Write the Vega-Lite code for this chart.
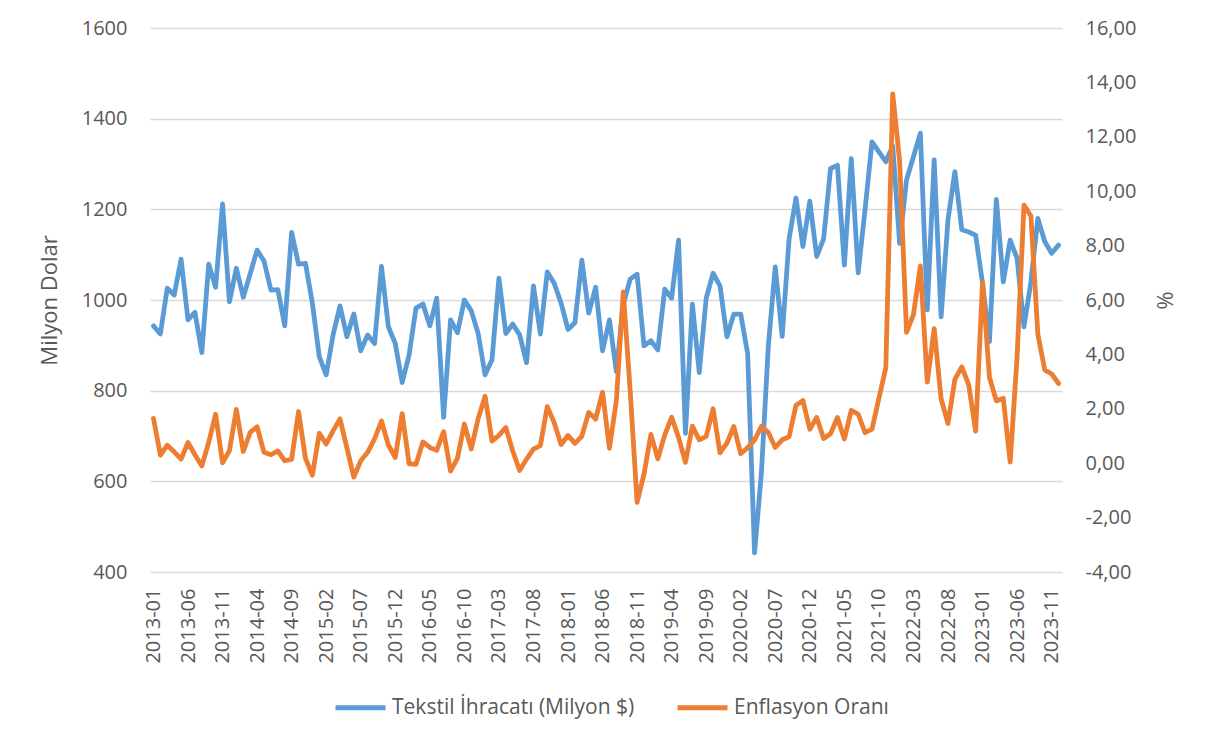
{
  "$schema": "https://vega.github.io/schema/vega-lite/v6.json",
  "width": 912,
  "height": 544,
  "autosize": {"type": "none"},
  "padding": {"left": 150, "top": 28, "right": 153, "bottom": 175},
  "background": "white",
  "config": {
    "view": {"stroke": null},
    "font": "Open Sans",
    "axis": {
      "labelFont": "Open Sans",
      "titleFont": "Open Sans",
      "labelColor": "#595959",
      "titleColor": "#595959",
      "labelFontSize": 20,
      "titleFontSize": 22,
      "titleFontWeight": "normal",
      "ticks": false,
      "domain": false
    },
    "legend": {
      "labelFont": "Open Sans",
      "labelFontSize": 21,
      "labelColor": "#595959",
      "labelLimit": 0
    }
  },
  "data": {
    "values": [
      {"ay": "2013-01", "tekstil": 943, "enflasyon": 1.65},
      {"ay": "2013-02", "tekstil": 925, "enflasyon": 0.30},
      {"ay": "2013-03", "tekstil": 1026, "enflasyon": 0.66},
      {"ay": "2013-04", "tekstil": 1011, "enflasyon": 0.42},
      {"ay": "2013-05", "tekstil": 1090, "enflasyon": 0.15},
      {"ay": "2013-06", "tekstil": 956, "enflasyon": 0.76},
      {"ay": "2013-07", "tekstil": 973, "enflasyon": 0.31},
      {"ay": "2013-08", "tekstil": 884, "enflasyon": -0.10},
      {"ay": "2013-09", "tekstil": 1079, "enflasyon": 0.77},
      {"ay": "2013-10", "tekstil": 1028, "enflasyon": 1.80},
      {"ay": "2013-11", "tekstil": 1212, "enflasyon": 0.01},
      {"ay": "2013-12", "tekstil": 996, "enflasyon": 0.46},
      {"ay": "2014-01", "tekstil": 1070, "enflasyon": 1.98},
      {"ay": "2014-02", "tekstil": 1006, "enflasyon": 0.43},
      {"ay": "2014-03", "tekstil": 1058, "enflasyon": 1.13},
      {"ay": "2014-04", "tekstil": 1110, "enflasyon": 1.34},
      {"ay": "2014-05", "tekstil": 1086, "enflasyon": 0.40},
      {"ay": "2014-06", "tekstil": 1022, "enflasyon": 0.31},
      {"ay": "2014-07", "tekstil": 1023, "enflasyon": 0.45},
      {"ay": "2014-08", "tekstil": 943, "enflasyon": 0.09},
      {"ay": "2014-09", "tekstil": 1149, "enflasyon": 0.14},
      {"ay": "2014-10", "tekstil": 1079, "enflasyon": 1.90},
      {"ay": "2014-11", "tekstil": 1081, "enflasyon": 0.18},
      {"ay": "2014-12", "tekstil": 993, "enflasyon": -0.44},
      {"ay": "2015-01", "tekstil": 875, "enflasyon": 1.10},
      {"ay": "2015-02", "tekstil": 835, "enflasyon": 0.71},
      {"ay": "2015-03", "tekstil": 923, "enflasyon": 1.19},
      {"ay": "2015-04", "tekstil": 987, "enflasyon": 1.63},
      {"ay": "2015-05", "tekstil": 919, "enflasyon": 0.56},
      {"ay": "2015-06", "tekstil": 969, "enflasyon": -0.51},
      {"ay": "2015-07", "tekstil": 888, "enflasyon": 0.09},
      {"ay": "2015-08", "tekstil": 923, "enflasyon": 0.40},
      {"ay": "2015-09", "tekstil": 904, "enflasyon": 0.89},
      {"ay": "2015-10", "tekstil": 1074, "enflasyon": 1.55},
      {"ay": "2015-11", "tekstil": 941, "enflasyon": 0.67},
      {"ay": "2015-12", "tekstil": 904, "enflasyon": 0.21},
      {"ay": "2016-01", "tekstil": 818, "enflasyon": 1.82},
      {"ay": "2016-02", "tekstil": 879, "enflasyon": -0.02},
      {"ay": "2016-03", "tekstil": 982, "enflasyon": -0.04},
      {"ay": "2016-04", "tekstil": 991, "enflasyon": 0.78},
      {"ay": "2016-05", "tekstil": 943, "enflasyon": 0.58},
      {"ay": "2016-06", "tekstil": 1004, "enflasyon": 0.47},
      {"ay": "2016-07", "tekstil": 741, "enflasyon": 1.16},
      {"ay": "2016-08", "tekstil": 956, "enflasyon": -0.29},
      {"ay": "2016-09", "tekstil": 928, "enflasyon": 0.18},
      {"ay": "2016-10", "tekstil": 1000, "enflasyon": 1.44},
      {"ay": "2016-11", "tekstil": 976, "enflasyon": 0.52},
      {"ay": "2016-12", "tekstil": 926, "enflasyon": 1.64},
      {"ay": "2017-01", "tekstil": 835, "enflasyon": 2.46},
      {"ay": "2017-02", "tekstil": 868, "enflasyon": 0.81},
      {"ay": "2017-03", "tekstil": 1048, "enflasyon": 1.02},
      {"ay": "2017-04", "tekstil": 926, "enflasyon": 1.31},
      {"ay": "2017-05", "tekstil": 947, "enflasyon": 0.45},
      {"ay": "2017-06", "tekstil": 923, "enflasyon": -0.27},
      {"ay": "2017-07", "tekstil": 862, "enflasyon": 0.15},
      {"ay": "2017-08", "tekstil": 1031, "enflasyon": 0.52},
      {"ay": "2017-09", "tekstil": 925, "enflasyon": 0.65},
      {"ay": "2017-10", "tekstil": 1062, "enflasyon": 2.08},
      {"ay": "2017-11", "tekstil": 1037, "enflasyon": 1.49},
      {"ay": "2017-12", "tekstil": 993, "enflasyon": 0.69},
      {"ay": "2018-01", "tekstil": 935, "enflasyon": 1.02},
      {"ay": "2018-02", "tekstil": 950, "enflasyon": 0.73},
      {"ay": "2018-03", "tekstil": 1088, "enflasyon": 0.99},
      {"ay": "2018-04", "tekstil": 971, "enflasyon": 1.87},
      {"ay": "2018-05", "tekstil": 1028, "enflasyon": 1.62},
      {"ay": "2018-06", "tekstil": 888, "enflasyon": 2.61},
      {"ay": "2018-07", "tekstil": 956, "enflasyon": 0.55},
      {"ay": "2018-08", "tekstil": 842, "enflasyon": 2.30},
      {"ay": "2018-09", "tekstil": 990, "enflasyon": 6.30},
      {"ay": "2018-10", "tekstil": 1046, "enflasyon": 2.67},
      {"ay": "2018-11", "tekstil": 1057, "enflasyon": -1.44},
      {"ay": "2018-12", "tekstil": 899, "enflasyon": -0.40},
      {"ay": "2019-01", "tekstil": 910, "enflasyon": 1.06},
      {"ay": "2019-02", "tekstil": 890, "enflasyon": 0.16},
      {"ay": "2019-03", "tekstil": 1024, "enflasyon": 1.03},
      {"ay": "2019-04", "tekstil": 1004, "enflasyon": 1.69},
      {"ay": "2019-05", "tekstil": 1132, "enflasyon": 0.95},
      {"ay": "2019-06", "tekstil": 706, "enflasyon": 0.03},
      {"ay": "2019-07", "tekstil": 991, "enflasyon": 1.36},
      {"ay": "2019-08", "tekstil": 840, "enflasyon": 0.86},
      {"ay": "2019-09", "tekstil": 1004, "enflasyon": 0.99},
      {"ay": "2019-10", "tekstil": 1059, "enflasyon": 2.00},
      {"ay": "2019-11", "tekstil": 1031, "enflasyon": 0.38},
      {"ay": "2019-12", "tekstil": 919, "enflasyon": 0.74},
      {"ay": "2020-01", "tekstil": 969, "enflasyon": 1.35},
      {"ay": "2020-02", "tekstil": 969, "enflasyon": 0.35},
      {"ay": "2020-03", "tekstil": 882, "enflasyon": 0.57},
      {"ay": "2020-04", "tekstil": 442, "enflasyon": 0.85},
      {"ay": "2020-05", "tekstil": 620, "enflasyon": 1.36},
      {"ay": "2020-06", "tekstil": 900, "enflasyon": 1.13},
      {"ay": "2020-07", "tekstil": 1073, "enflasyon": 0.58},
      {"ay": "2020-08", "tekstil": 920, "enflasyon": 0.86},
      {"ay": "2020-09", "tekstil": 1135, "enflasyon": 0.97},
      {"ay": "2020-10", "tekstil": 1225, "enflasyon": 2.13},
      {"ay": "2020-11", "tekstil": 1118, "enflasyon": 2.30},
      {"ay": "2020-12", "tekstil": 1218, "enflasyon": 1.25},
      {"ay": "2021-01", "tekstil": 1096, "enflasyon": 1.68},
      {"ay": "2021-02", "tekstil": 1135, "enflasyon": 0.91},
      {"ay": "2021-03", "tekstil": 1290, "enflasyon": 1.08},
      {"ay": "2021-04", "tekstil": 1297, "enflasyon": 1.68},
      {"ay": "2021-05", "tekstil": 1077, "enflasyon": 0.89},
      {"ay": "2021-06", "tekstil": 1312, "enflasyon": 1.94},
      {"ay": "2021-07", "tekstil": 1060, "enflasyon": 1.80},
      {"ay": "2021-08", "tekstil": 1200, "enflasyon": 1.12},
      {"ay": "2021-09", "tekstil": 1349, "enflasyon": 1.25},
      {"ay": "2021-10", "tekstil": 1327, "enflasyon": 2.39},
      {"ay": "2021-11", "tekstil": 1305, "enflasyon": 3.51},
      {"ay": "2021-12", "tekstil": 1340, "enflasyon": 13.58},
      {"ay": "2022-01", "tekstil": 1125, "enflasyon": 11.10},
      {"ay": "2022-02", "tekstil": 1265, "enflasyon": 4.81},
      {"ay": "2022-03", "tekstil": 1316, "enflasyon": 5.46},
      {"ay": "2022-04", "tekstil": 1368, "enflasyon": 7.25},
      {"ay": "2022-05", "tekstil": 978, "enflasyon": 2.98},
      {"ay": "2022-06", "tekstil": 1309, "enflasyon": 4.95},
      {"ay": "2022-07", "tekstil": 963, "enflasyon": 2.37},
      {"ay": "2022-08", "tekstil": 1177, "enflasyon": 1.46},
      {"ay": "2022-09", "tekstil": 1283, "enflasyon": 3.08},
      {"ay": "2022-10", "tekstil": 1155, "enflasyon": 3.54},
      {"ay": "2022-11", "tekstil": 1150, "enflasyon": 2.88},
      {"ay": "2022-12", "tekstil": 1143, "enflasyon": 1.18},
      {"ay": "2023-01", "tekstil": 1037, "enflasyon": 6.65},
      {"ay": "2023-02", "tekstil": 908, "enflasyon": 3.15},
      {"ay": "2023-03", "tekstil": 1222, "enflasyon": 2.29},
      {"ay": "2023-04", "tekstil": 1040, "enflasyon": 2.39},
      {"ay": "2023-05", "tekstil": 1132, "enflasyon": 0.04},
      {"ay": "2023-06", "tekstil": 1092, "enflasyon": 3.92},
      {"ay": "2023-07", "tekstil": 941, "enflasyon": 9.49},
      {"ay": "2023-08", "tekstil": 1040, "enflasyon": 9.09},
      {"ay": "2023-09", "tekstil": 1180, "enflasyon": 4.75},
      {"ay": "2023-10", "tekstil": 1129, "enflasyon": 3.43},
      {"ay": "2023-11", "tekstil": 1103, "enflasyon": 3.28},
      {"ay": "2023-12", "tekstil": 1121, "enflasyon": 2.93}
    ]
  },
  "encoding": {
    "x": {
      "field": "ay",
      "type": "ordinal",
      "scale": {"type": "point", "padding": 0.5},
      "axis": {
        "values": ["2013-01","2013-06","2013-11","2014-04","2014-09","2015-02","2015-07","2015-12","2016-05","2016-10","2017-03","2017-08","2018-01","2018-06","2018-11","2019-04","2019-09","2020-02","2020-07","2020-12","2021-05","2021-10","2022-03","2022-08","2023-01","2023-06","2023-11"],
        "labelAngle": 270,
        "labelPadding": 16,
        "labelOverlap": false,
        "title": null,
        "grid": false
      }
    }
  },
  "layer": [
    {
      "mark": {"type": "line", "strokeWidth": 4.8, "strokeCap": "round", "strokeJoin": "round"},
      "encoding": {
        "y": {
          "field": "tekstil",
          "type": "quantitative",
          "scale": {"domain": [400, 1600], "nice": false, "zero": false},
          "axis": {
            "values": [400, 600, 800, 1000, 1200, 1400, 1600],
            "format": "d",
            "title": "Milyon Dolar",
            "grid": true,
            "gridColor": "#D9D9D9",
            "gridWidth": 1.3,
            "labelPadding": 23,
            "titlePadding": 20
          }
        },
        "color": {
          "datum": "Tekstil İhracatı (Milyon $)",
          "type": "nominal",
          "scale": {"domain": ["Tekstil İhracatı (Milyon $)", "Enflasyon Oranı"], "range": ["#5B9BD5", "#ED7D31"]},
          "legend": {
            "title": null,
            "orient": "none",
            "legendX": 183,
            "legendY": 652,
            "direction": "horizontal",
            "symbolType": "stroke",
            "symbolSize": 2500,
            "symbolStrokeWidth": 5,
            "labelOffset": 4,
            "labelLimit": 0,
            "columnPadding": 32
          }
        }
      }
    },
    {
      "mark": {"type": "line", "strokeWidth": 4.8, "strokeCap": "round", "strokeJoin": "round"},
      "encoding": {
        "y": {
          "field": "enflasyon",
          "type": "quantitative",
          "scale": {"domain": [-4, 16], "nice": false, "zero": false},
          "axis": {
            "orient": "right",
            "values": [-4, -2, 0, 2, 4, 6, 8, 10, 12, 14, 16],
            "labelExpr": "replace(replace(format(datum.value, '.2f'), '.', ','), '\u2212', '-')",
            "title": "%",
            "grid": false,
            "labelPadding": 23,
            "titlePadding": 16
          }
        },
        "color": {"datum": "Enflasyon Oranı", "type": "nominal"}
      }
    }
  ],
  "resolve": {"scale": {"y": "independent"}}
}
